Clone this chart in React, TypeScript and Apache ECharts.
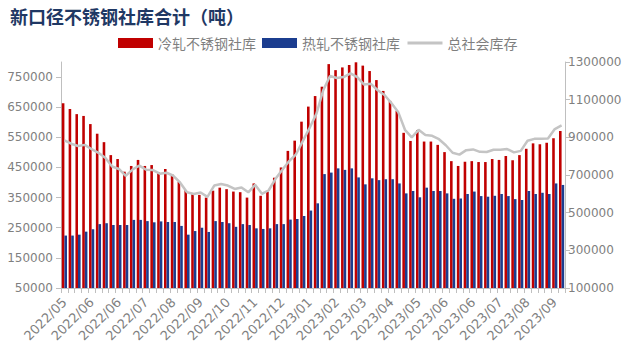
import React, { useEffect, useRef } from "react";
import * as echarts from "echarts";

const categories: string[] = [
  "2022/05/05", "2022/05/12", "2022/05/19", "2022/05/26",
  "2022/06/02", "2022/06/09", "2022/06/16", "2022/06/23", "2022/06/30",
  "2022/07/07", "2022/07/14", "2022/07/21", "2022/07/28",
  "2022/08/04", "2022/08/11", "2022/08/18", "2022/08/25",
  "2022/09/01", "2022/09/08", "2022/09/15", "2022/09/22", "2022/09/29",
  "2022/10/06", "2022/10/13", "2022/10/20", "2022/10/27",
  "2022/11/03", "2022/11/10", "2022/11/17", "2022/11/24",
  "2022/12/01", "2022/12/08", "2022/12/15", "2022/12/22", "2022/12/29",
  "2023/01/05", "2023/01/12", "2023/01/19", "2023/01/26",
  "2023/02/02", "2023/02/09", "2023/02/16", "2023/02/23",
  "2023/03/02", "2023/03/09", "2023/03/16", "2023/03/23", "2023/03/30",
  "2023/04/06", "2023/04/13", "2023/04/20", "2023/04/27",
  "2023/05/04", "2023/05/11", "2023/05/18", "2023/05/25",
  "2023/06/01", "2023/06/08", "2023/06/15", "2023/06/22", "2023/06/29",
  "2023/07/06", "2023/07/13", "2023/07/20", "2023/07/27",
  "2023/08/03", "2023/08/10", "2023/08/17", "2023/08/24", "2023/08/31",
  "2023/09/07", "2023/09/14", "2023/09/21", "2023/09/28",
];

// 冷轧不锈钢社库 (吨)
const coldRolled: number[] = [
  663000, 644000, 627000, 621000, 594000, 562000, 534000, 491000, 478000, 436000,
  455000, 475000, 455000, 458000, 435000, 445000, 427000, 403000, 375000, 361000,
  359000, 350000, 373000, 383000, 378000, 370000, 368000, 350000, 397000, 356000,
  370000, 416000, 450000, 505000, 539000, 602000, 652000, 687000, 718000, 793000,
  773000, 782000, 790000, 799000, 788000, 770000, 740000, 704000, 671000, 638000,
  565000, 538000, 574000, 536000, 536000, 525000, 501000, 471000, 455000, 469000,
  471000, 468000, 468000, 478000, 475000, 488000, 474000, 491000, 512000, 530000,
  527000, 532000, 547000, 571000,
];

// 热轧不锈钢社库 (吨)
const hotRolled: number[] = [
  224000, 224000, 227000, 237000, 245000, 262000, 265000, 259000, 259000, 259000,
  276000, 276000, 272000, 268000, 271000, 269000, 269000, 256000, 227000, 239000,
  250000, 236000, 272000, 269000, 265000, 253000, 262000, 259000, 248000, 246000,
  248000, 262000, 262000, 277000, 279000, 289000, 307000, 331000, 428000, 433000,
  447000, 442000, 447000, 417000, 394000, 414000, 408000, 411000, 411000, 397000,
  364000, 372000, 351000, 383000, 372000, 372000, 364000, 346000, 347000, 362000,
  370000, 355000, 353000, 356000, 362000, 355000, 345000, 342000, 372000, 362000,
  366000, 362000, 397000, 392000,
];

// 总社会库存 (吨)
const totalStock: number[] = [
  884000, 866000, 854000, 860000, 837000, 818000, 792000, 745000, 732000, 695000,
  729000, 750000, 728000, 726000, 707000, 712000, 696000, 659000, 608000, 599000,
  607000, 584000, 644000, 652000, 644000, 626000, 634000, 608000, 648000, 600000,
  619000, 680000, 728000, 774000, 810000, 880000, 950000, 1025000, 1150000, 1226000,
  1215000, 1220000, 1240000, 1220000, 1180000, 1184000, 1150000, 1125000, 1082000, 1035000,
  940000, 900000, 940000, 912000, 908000, 890000, 858000, 818000, 808000, 832000,
  836000, 823000, 822000, 834000, 834000, 838000, 820000, 828000, 882000, 892000,
  893000, 894000, 944000, 963000,
];

const leftTicks: number[] = [50000, 150000, 250000, 350000, 450000, 550000, 650000, 750000];
const rightTicks: number[] = [100000, 300000, 500000, 700000, 900000, 1100000, 1300000];

const TEXT_GRAY = "#7f7f7f";
const AXIS_GRAY = "#bfbfbf";
const AXIS_FONT = "DejaVu Sans";
const CJK_FONT = "Noto Sans CJK SC";

const plain = (v: number) => String(Math.round(v));

export default function App() {
  const ref = useRef<HTMLDivElement>(null);

  useEffect(() => {
    document.body.style.margin = "0";
    if (!ref.current) return;
    const chart = echarts.init(ref.current, undefined, { renderer: "svg" });
    chart.setOption({
      animation: false,
      backgroundColor: "#ffffff",
      title: {
        text: "新口径不锈钢社库合计（吨）",
        left: 10,
        top: 7,
        padding: 0,
        textStyle: {
          fontFamily: CJK_FONT,
          fontSize: 18,
          fontWeight: "bold",
          color: "#1f3864",
        },
      },
      legend: {
        left: 118,
        top: 36,
        padding: 0,
        itemWidth: 35,
        itemHeight: 10,
        itemGap: 6,
        textStyle: { fontFamily: CJK_FONT, fontSize: 14, color: TEXT_GRAY },
        data: [
          { name: "冷轧不锈钢社库", icon: "rect" },
          { name: "热轧不锈钢社库", icon: "rect" },
          { name: "总社会库存", itemStyle: { opacity: 0 }, lineStyle: { width: 3, color: "#c4c4c4" } },
        ],
      },
      grid: { left: 61, right: 73, top: 62, bottom: 67, containLabel: false },
      xAxis: {
        type: "category",
        data: categories,
        boundaryGap: true,
        axisLine: { show: true, lineStyle: { color: AXIS_GRAY, width: 1 } },
        axisTick: { show: true, interval: 0, length: 5, lineStyle: { color: AXIS_GRAY } },
        axisLabel: {
          interval: 3,
          rotate: 45,
          margin: 12,
          fontFamily: AXIS_FONT,
          fontSize: 13,
          color: TEXT_GRAY,
          formatter: (v: string) => v.slice(0, 7),
        },
        splitLine: { show: false },
      },
      yAxis: [
        {
          type: "value",
          min: 50000,
          max: 800000,
          position: "left",
          axisLine: { show: true, lineStyle: { color: AXIS_GRAY } },
          axisTick: { show: true, length: 5, customValues: leftTicks, lineStyle: { color: AXIS_GRAY } },
          axisLabel: {
            customValues: leftTicks,
            fontFamily: AXIS_FONT,
            fontSize: 12,
            color: TEXT_GRAY,
            margin: 8,
            formatter: plain,
          },
          splitLine: { show: false },
        },
        {
          type: "value",
          min: 100000,
          max: 1300000,
          position: "right",
          axisLine: { show: true, lineStyle: { color: AXIS_GRAY } },
          axisTick: { show: true, length: 5, customValues: rightTicks, lineStyle: { color: AXIS_GRAY } },
          axisLabel: {
            customValues: rightTicks,
            fontFamily: AXIS_FONT,
            fontSize: 12,
            color: TEXT_GRAY,
            margin: 3,
            formatter: plain,
          },
          splitLine: { show: false },
        },
      ],
      series: [
        {
          name: "冷轧不锈钢社库",
          type: "bar",
          yAxisIndex: 0,
          data: coldRolled,
          barGap: "0%",
          barCategoryGap: "24%",
          itemStyle: { color: "#c00000" },
        },
        {
          name: "热轧不锈钢社库",
          type: "bar",
          yAxisIndex: 0,
          data: hotRolled,
          barGap: "0%",
          barCategoryGap: "24%",
          itemStyle: { color: "#1b3d8f" },
        },
        {
          name: "总社会库存",
          type: "line",
          yAxisIndex: 1,
          data: totalStock,
          symbol: "none",
          smooth: false,
          lineStyle: { color: "#c4c4c4", width: 2.5 },
          itemStyle: { color: "#c4c4c4" },
          z: 5,
        },
      ],
    });
    return () => chart.dispose();
  }, []);

  return <div ref={ref} style={{ width: 638, height: 355 }} />;
}
